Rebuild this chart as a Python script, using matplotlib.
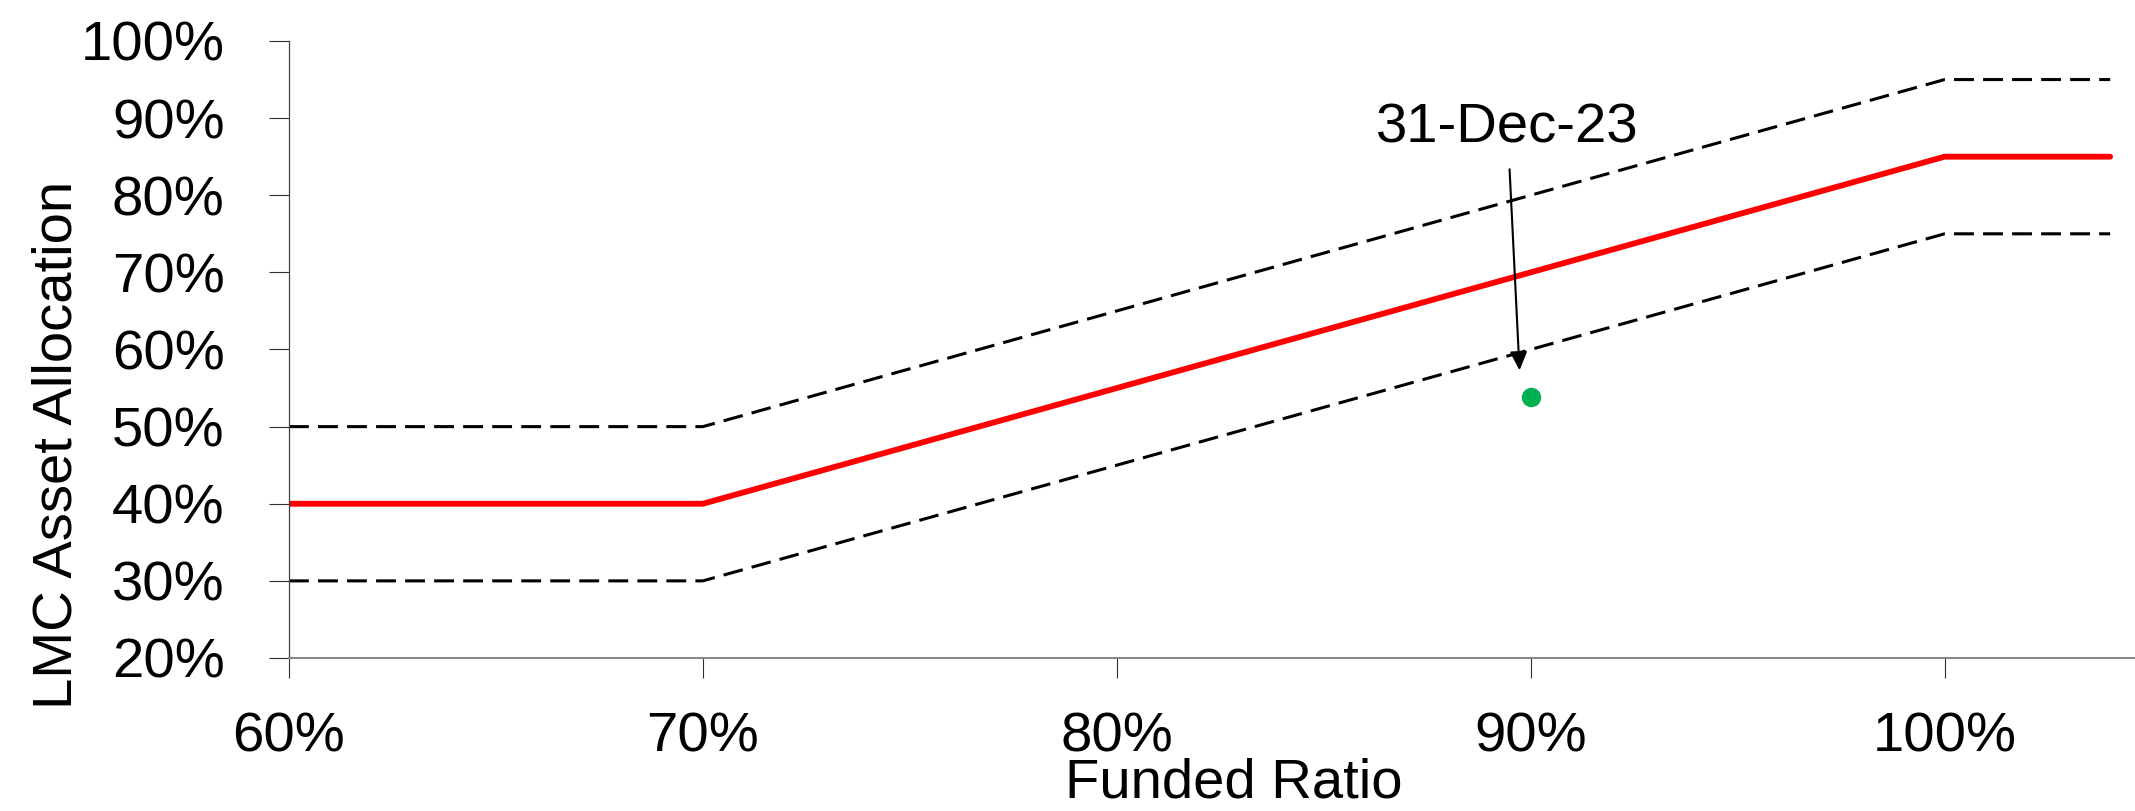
import matplotlib
matplotlib.use('Agg')
import matplotlib.pyplot as plt

plt.rcParams['font.family'] = ['Liberation Sans', 'DejaVu Sans']

# glide path: funded ratio vs LMC allocation (target and +/-10% band)
funded = [0.60, 0.70, 1.00, 1.04]
target = [0.40, 0.40, 0.85, 0.85]
upper = [0.50, 0.50, 0.95, 0.95]
lower = [0.30, 0.30, 0.75, 0.75]

# current position
cur_funded = [0.90]
cur_alloc = [0.539]
cur_label = '31-Dec-23'

xticks = [0.6, 0.7, 0.8, 0.9, 1.0]
xtick_labels = ['60%', '70%', '80%', '90%', '100%']
yticks = [0.2, 0.3, 0.4, 0.5, 0.6, 0.7, 0.8, 0.9, 1.0]
ytick_labels = ['20%', '30%', '40%', '50%', '60%', '70%', '80%', '90%', '100%']

fs = 40.5

fig = plt.figure(figsize=(21.35, 8.11), dpi=100)
ax = fig.add_axes([0.13536, 0.18866, 0.86464, 0.76079])

ax.plot(funded, upper, color='black', lw=2.2, ls=(0, (6.5, 3)), solid_joinstyle='round')
ax.plot(funded, lower, color='black', lw=2.2, ls=(0, (6.5, 3)), solid_joinstyle='round')
ax.plot(funded, target, color='#ff0000', lw=4.2, solid_joinstyle='round', solid_capstyle='round')
ax.plot(cur_funded, cur_alloc, 'o', color='#00b050', ms=14, mec='none')

ax.annotate(cur_label, xy=(0.8973, 0.573), xytext=(0.8944, 0.869),
            ha='center', va='baseline', fontsize=fs,
            arrowprops=dict(arrowstyle='-|>,head_length=0.28,head_width=0.13',
                            color='black', lw=1.5, shrinkA=9, shrinkB=0))

ax.set_xlim(0.6, 1.046)
ax.set_ylim(0.2, 1.0)
ax.set_xticks(xticks, xtick_labels)
ax.set_yticks(yticks, ytick_labels)

for s in ['top', 'right']:
    ax.spines[s].set_visible(False)
ax.spines['left'].set_color('#404040')
ax.spines['left'].set_linewidth(0.9)
ax.spines['bottom'].set_color('#858585')
ax.spines['bottom'].set_linewidth(1.4)

ax.tick_params(axis='x', length=14.4, width=0.8, color='#303030', pad=24, labelsize=fs)
ax.tick_params(axis='y', length=14.4, width=0.8, color='#303030', pad=32, labelsize=fs)

ax.set_xlabel('Funded Ratio', fontsize=fs, va='baseline')
ax.xaxis.set_label_coords((1220 - 289) / 1820, -0.2253)
ax.set_ylabel('LMC Asset Allocation', fontsize=fs, va='center')
ax.yaxis.set_label_coords(-0.1253, 0.345)

fig.savefig('out.png', dpi=100)
